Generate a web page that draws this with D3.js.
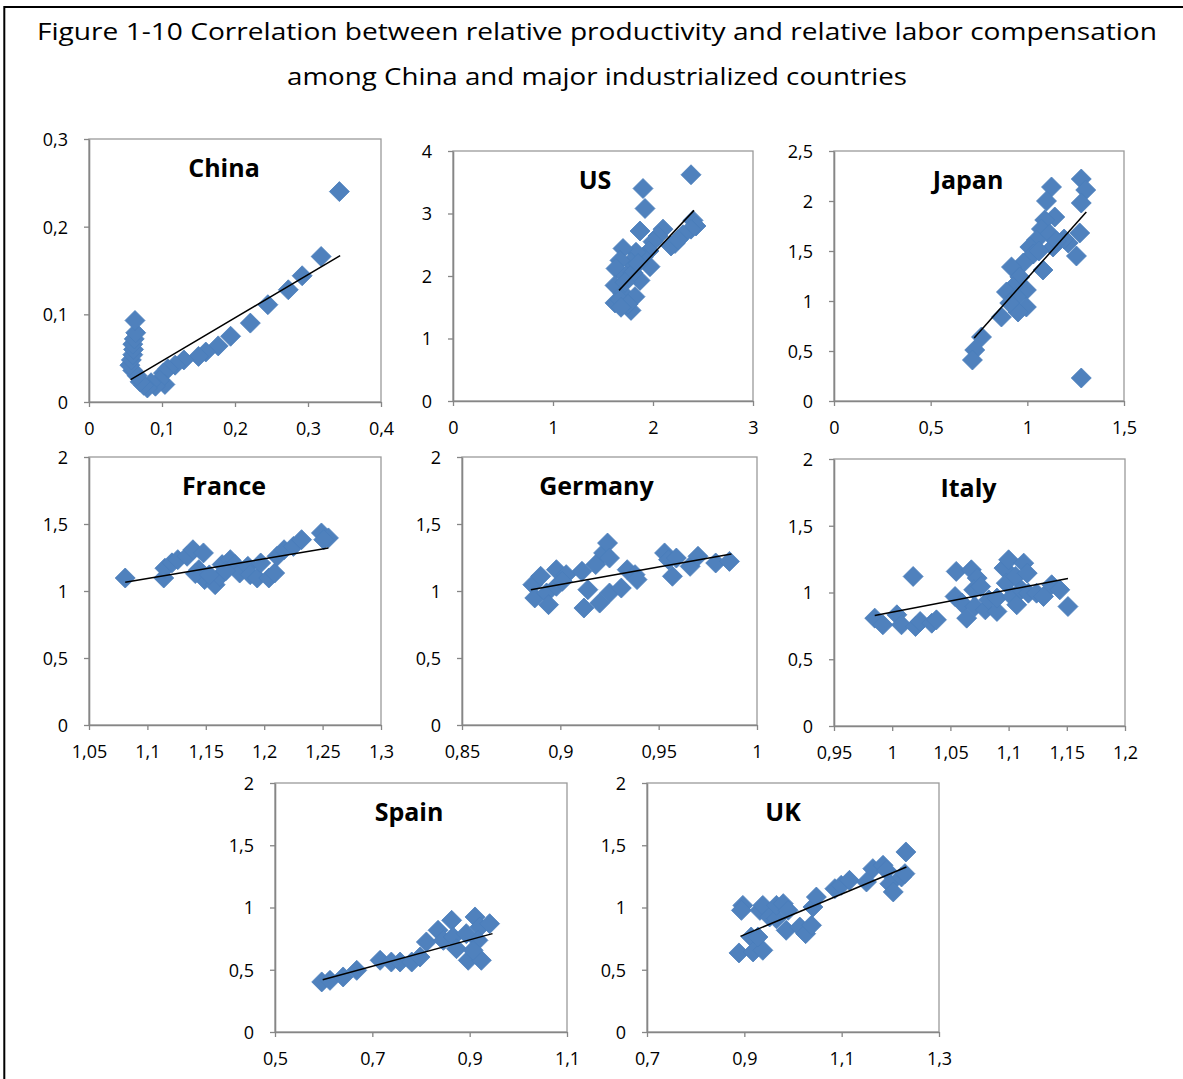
<!DOCTYPE html>
<html><head><meta charset="utf-8">
<script src="https://cdn.jsdelivr.net/npm/d3@7"></script>
<style>body{margin:0;background:#fff} svg{display:block;font-family:'Open Sans',sans-serif}</style>
</head><body><svg id="c" width="1183" height="1079"></svg>
<script>
const titleLines = ["Figure 1-10 Correlation between relative productivity and relative labor compensation",
                    "among China and major industrialized countries"];
const countryNames = ["China","US","Japan","France","Germany","Italy","Spain","UK"];

const chinaPts = [[0.343,0.240],[0.318,0.166],[0.292,0.144],[0.273,0.128],[0.245,0.111],[0.221,0.090],[0.194,0.075],[0.177,0.064],[0.160,0.057],[0.150,0.052],[0.130,0.048],[0.118,0.042],[0.108,0.038],[0.102,0.033],[0.104,0.020],[0.097,0.025],[0.091,0.018],[0.085,0.022],[0.080,0.016],[0.075,0.019],[0.070,0.023],[0.066,0.030],[0.060,0.036],[0.056,0.042],[0.058,0.048],[0.060,0.054],[0.061,0.060],[0.060,0.066],[0.062,0.072],[0.064,0.079],[0.063,0.093]];
const usPts = [[2.38,3.62],[1.90,3.40],[1.92,3.08],[1.87,2.72],[2.40,2.89],[2.43,2.80],[2.38,2.75],[2.30,2.66],[2.22,2.52],[2.18,2.48],[2.25,2.58],[2.10,2.75],[2.05,2.64],[2.00,2.55],[1.96,2.40],[1.97,2.15],[1.90,2.30],[1.83,2.38],[1.78,2.22],[1.70,2.44],[1.67,2.25],[1.63,2.12],[1.73,2.00],[1.87,1.93],[1.62,1.85],[1.70,1.72],[1.82,1.67],[1.62,1.57],[1.67,1.62],[1.78,1.45],[1.75,1.55],[1.68,1.50],[1.80,2.05],[1.85,2.20],[1.72,1.90]];
const japanPts = [[1.279,2.22],[1.302,2.11],[1.279,1.98],[1.271,1.68],[1.254,1.45],[1.211,1.58],[1.279,0.23],[1.125,2.14],[1.099,2.00],[1.142,1.84],[1.090,1.81],[1.073,1.72],[1.116,1.67],[1.047,1.61],[1.013,1.54],[1.133,1.54],[1.081,1.31],[1.031,1.47],[0.979,1.38],[0.918,1.34],[0.961,1.24],[0.995,1.11],[0.926,1.14],[0.892,1.09],[0.944,1.04],[0.995,0.94],[0.952,0.89],[0.866,0.84],[0.909,0.98],[0.763,0.64],[0.728,0.51],[0.716,0.41],[1.19,1.62],[1.06,1.50],[1.15,1.60]];
const francePts = [[1.081,1.097],[1.114,1.097],[1.115,1.17],[1.121,1.21],[1.126,1.234],[1.134,1.259],[1.139,1.308],[1.148,1.284],[1.144,1.159],[1.149,1.085],[1.158,1.047],[1.162,1.109],[1.164,1.197],[1.171,1.234],[1.175,1.197],[1.179,1.134],[1.186,1.184],[1.188,1.122],[1.194,1.097],[1.197,1.209],[1.204,1.097],[1.209,1.134],[1.211,1.259],[1.217,1.308],[1.225,1.333],[1.232,1.383],[1.249,1.433],[1.255,1.396],[1.251,1.383],[1.141,1.13],[1.153,1.12],[1.167,1.15]];
const germanyPts = [[0.886,1.047],[0.890,1.110],[0.887,0.948],[0.893,0.985],[0.894,0.898],[0.898,1.035],[0.898,1.159],[0.903,1.122],[0.901,1.072],[0.912,0.873],[0.911,1.147],[0.914,1.010],[0.918,1.197],[0.920,0.910],[0.922,1.284],[0.924,1.358],[0.925,1.246],[0.925,0.985],[0.931,1.022],[0.934,1.159],[0.938,1.122],[0.939,1.085],[0.953,1.284],[0.955,1.234],[0.957,1.110],[0.959,1.246],[0.966,1.184],[0.970,1.259],[0.979,1.209],[0.986,1.221]];
const italyPts = [[0.985,0.808],[0.992,0.758],[1.004,0.833],[1.008,0.758],[1.018,1.120],[1.020,0.745],[1.024,0.783],[1.034,0.770],[1.038,0.795],[1.054,0.970],[1.055,1.158],[1.060,0.920],[1.064,0.808],[1.068,1.170],[1.073,1.108],[1.070,1.020],[1.076,1.045],[1.071,0.895],[1.080,0.870],[1.083,0.945],[1.090,0.858],[1.090,0.958],[1.096,1.183],[1.100,1.245],[1.098,1.070],[1.103,0.970],[1.107,0.908],[1.106,1.120],[1.113,1.220],[1.116,1.145],[1.111,1.020],[1.117,0.995],[1.124,0.995],[1.130,0.970],[1.137,1.058],[1.144,1.020],[1.151,0.895]];
const spainPts = [[0.596,0.402],[0.613,0.415],[0.640,0.442],[0.668,0.495],[0.716,0.576],[0.739,0.562],[0.757,0.562],[0.781,0.562],[0.798,0.602],[0.811,0.723],[0.835,0.817],[0.846,0.736],[0.863,0.897],[0.866,0.763],[0.873,0.669],[0.893,0.790],[0.897,0.576],[0.911,0.924],[0.921,0.843],[0.917,0.736],[0.924,0.576],[0.907,0.656],[0.941,0.870]];
const ukPts = [[0.889,0.635],[0.897,1.017],[0.894,0.977],[0.914,0.763],[0.918,0.643],[0.938,0.656],[0.928,0.763],[0.932,0.977],[0.938,1.017],[0.952,0.924],[0.966,0.910],[0.966,1.017],[0.980,1.031],[0.990,0.977],[0.986,0.817],[1.014,0.843],[1.026,0.790],[1.038,0.857],[1.041,1.004],[1.048,1.084],[1.086,1.151],[1.099,1.178],[1.116,1.218],[1.151,1.205],[1.164,1.312],[1.185,1.339],[1.192,1.299],[1.199,1.191],[1.206,1.125],[1.223,1.245],[1.230,1.272],[1.232,1.446]];

const chinaTrend = [[0.057,0.0255],[0.344,0.167]];
const usTrend = [[1.66,1.77],[2.41,3.05]];
const japanTrend = [[0.725,0.63],[1.305,1.89]];
const franceTrend = [[1.081,1.065],[1.255,1.321]];
const germanyTrend = [[0.885,1.01],[0.987,1.276]];
const italyTrend = [[0.985,0.828],[1.151,1.105]];
const spainTrend = [[0.598,0.42],[0.947,0.79]];
const ukTrend = [[0.892,0.768],[1.233,1.325]];

const chinaXTicks = [0,0.1,0.2,0.3,0.4], chinaYTicks = [0,0.1,0.2,0.3];
const usXTicks = [0,1,2,3], usYTicks = [0,1,2,3,4];
const japanXTicks = [0,0.5,1,1.5], japanYTicks = [0,0.5,1,1.5,2,2.5];
const franceXTicks = [1.05,1.1,1.15,1.2,1.25,1.3];
const germanyXTicks = [0.85,0.9,0.95,1];
const italyXTicks = [0.95,1,1.05,1.1,1.15,1.2];
const spainXTicks = [0.5,0.7,0.9,1.1];
const ukXTicks = [0.7,0.9,1.1,1.3];
const commonYTicks = [0,0.5,1,1.5,2];

// layout (pixel boxes of plot areas)
const layout = [
  {left:89, top:139, w:292, h:263, tOff:-11},
  {left:453, top:151, w:300, h:250, tOff:-8},
  {left:834, top:151, w:290, h:250, tOff:-11},
  {left:89, top:457, w:292, h:268, tOff:-11},
  {left:462, top:457, w:295, h:268, tOff:-13},
  {left:834, top:459, w:291, h:267, tOff:-11},
  {left:275, top:783, w:292, h:249, tOff:-12},
  {left:647, top:783, w:292, h:249, tOff:-10}
];
const panelPts = [chinaPts, usPts, japanPts, francePts, germanyPts, italyPts, spainPts, ukPts];
const panelTrend = [chinaTrend, usTrend, japanTrend, franceTrend, germanyTrend, italyTrend, spainTrend, ukTrend];
const panelXT = [chinaXTicks, usXTicks, japanXTicks, franceXTicks, germanyXTicks, italyXTicks, spainXTicks, ukXTicks];
const panelYT = [chinaYTicks, usYTicks, japanYTicks, commonYTicks, commonYTicks, commonYTicks, commonYTicks, commonYTicks];

const loc = d3.formatLocale({decimal:",", thousands:" ", grouping:[3], currency:["",""]});
const fmt = loc.format("~g");

const svg = d3.select("#c");
svg.append("rect").attr("width",1183).attr("height",1079).attr("fill","#fff");
svg.append("path").attr("d","M4.3,1079V7H1183").attr("fill","none").attr("stroke","#000").attr("stroke-width",2);

const tY = [40, 85], tW = [1120, 620];
titleLines.forEach((t,i)=>{
  svg.append("text").attr("x",597).attr("y",tY[i]).attr("text-anchor","middle")
    .attr("font-size",24).attr("textLength",tW[i]).attr("lengthAdjust","spacingAndGlyphs")
    .attr("fill","#000").text(t);
});

const diamond = r => `M0,${-r}L${r},0L0,${r}L${-r},0Z`;
const AX = "#868686";

countryNames.forEach((name,i)=>{
  const L = layout[i];
  const xt = panelXT[i], yt = panelYT[i];
  const x = d3.scaleLinear().domain(d3.extent(xt)).range([L.left, L.left+L.w]);
  const y = d3.scaleLinear().domain(d3.extent(yt)).range([L.top+L.h, L.top]);
  const g = svg.append("g");
  g.append("rect").attr("x",L.left).attr("y",L.top).attr("width",L.w).attr("height",L.h)
    .attr("fill","none").attr("stroke","#9a9a9a").attr("stroke-width",1.3);
  const xa = g.append("g").attr("transform",`translate(0,${L.top+L.h})`)
    .call(d3.axisBottom(x).tickValues(xt).tickFormat(fmt).tickSizeInner(5).tickSizeOuter(0));
  const ya = g.append("g").attr("transform",`translate(${L.left},0)`)
    .call(d3.axisLeft(y).tickValues(yt).tickFormat(fmt).tickSizeInner(5).tickSizeOuter(0));
  [xa,ya].forEach(a=>{
    a.select(".domain").attr("stroke",AX).attr("stroke-width",1.6);
    a.selectAll(".tick line").attr("stroke",AX).attr("stroke-width",1.3);
    a.selectAll(".tick text").attr("fill","#000").attr("font-size",18).attr("font-family","'Open Sans',sans-serif");
  });
  xa.selectAll(".tick text").attr("y",33).attr("dy","0");
  ya.selectAll(".tick text").attr("x",-21).attr("dy","0.36em");

  g.selectAll("path.pt").data(panelPts[i]).join("path").attr("class","pt")
    .attr("d",diamond(10)).attr("transform",d=>`translate(${x(d[0])},${y(d[1])})`)
    .attr("fill","#4F81BD").attr("stroke","#4A7EBB").attr("stroke-width",0.8);

  const tr = panelTrend[i];
  g.append("line").attr("x1",x(tr[0][0])).attr("y1",y(tr[0][1])).attr("x2",x(tr[1][0])).attr("y2",y(tr[1][1]))
    .attr("stroke","#000").attr("stroke-width",1.5);

  g.append("text").attr("x",L.left+L.w/2+L.tOff).attr("y",L.top+38).attr("text-anchor","middle")
    .attr("font-size",25).attr("font-weight","bold").attr("fill","#000").text(name);
});
</script>
</body></html>
